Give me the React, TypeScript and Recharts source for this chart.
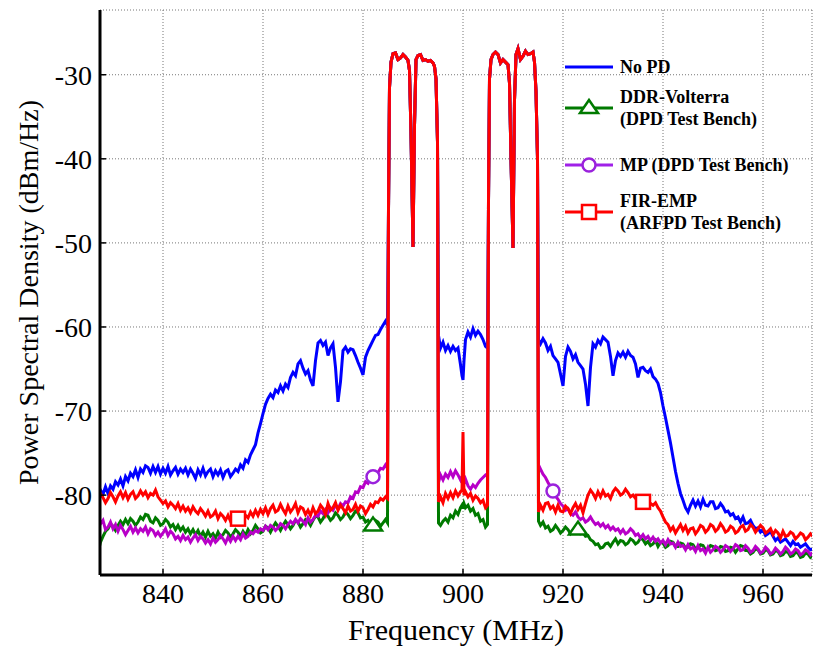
import React from "react";
import {
  LineChart,
  Line,
  XAxis,
  YAxis,
  CartesianGrid,
  Legend,
} from "recharts";

// frequency grid (MHz): 0.5 MHz steps, finer around the two carrier bands
const freqLeft = [
  827, 827.5, 828, 828.5, 829, 829.5, 830, 830.5, 831, 831.5, 832, 832.5, 833, 833.5, 834, 834.5,
  835, 835.5, 836, 836.5, 837, 837.5, 838, 838.5, 839, 839.5, 840, 840.5, 841, 841.5, 842, 842.5,
  843, 843.5, 844, 844.5, 845, 845.5, 846, 846.5, 847, 847.5, 848, 848.5, 849, 849.5, 850, 850.5,
  851, 851.5, 852, 852.5, 853, 853.5, 854, 854.5, 855, 855.5, 856, 856.5, 857, 857.5, 858, 858.5,
  859, 859.5, 860, 860.5, 861, 861.5, 862, 862.5, 863, 863.5, 864, 864.5, 865, 865.5, 866, 866.5,
  867, 867.5, 868, 868.5, 869, 869.5, 870, 870.5, 871, 871.5, 872, 872.5, 873, 873.5, 874, 874.5,
  875, 875.5, 876, 876.5, 877, 877.5, 878, 878.5, 879, 879.5, 880, 880.5, 881, 881.5, 882, 882.5,
  883, 883.5, 884, 884.5, 884.9,
];
const freqBand1 = [
  885.1, 885.3, 885.6, 886, 886.5, 887, 887.5, 888, 888.5, 889, 889.3, 889.6, 890, 890.3, 890.6, 891,
  891.5, 892, 892.5, 893, 893.5, 894, 894.3, 894.6, 894.9,
];
const freqMid = [
  895.1, 895.5, 896, 896.5, 897, 897.5, 898, 898.5, 899, 899.5, 899.8, 900, 900.2, 900.5, 901, 901.5,
  902, 902.5, 903, 903.5, 904, 904.5, 904.9,
];
const freqBand2 = [
  905.1, 905.3, 905.6, 906, 906.5, 907, 907.5, 908, 908.5, 909, 909.3, 909.6, 910, 910.3, 910.6, 911,
  911.5, 912, 912.5, 913, 913.5, 914, 914.3, 914.6, 914.9,
];
const freqRight = [
  915.1, 915.5, 916, 916.5, 917, 917.5, 918, 918.5, 919, 919.5, 920, 920.5, 921, 921.5, 922, 922.5,
  923, 923.5, 924, 924.5, 925, 925.5, 926, 926.5, 927, 927.5, 928, 928.5, 929, 929.5, 930, 930.5,
  931, 931.5, 932, 932.5, 933, 933.5, 934, 934.5, 935, 935.5, 936, 936.5, 937, 937.5, 938, 938.5,
  939, 939.5, 940, 940.5, 941, 941.5, 942, 942.5, 943, 943.5, 944, 944.5, 945, 945.5, 946, 946.5,
  947, 947.5, 948, 948.5, 949, 949.5, 950, 950.5, 951, 951.5, 952, 952.5, 953, 953.5, 954, 954.5,
  955, 955.5, 956, 956.5, 957, 957.5, 958, 958.5, 959, 959.5, 960, 960.5, 961, 961.5, 962, 962.5,
  963, 963.5, 964, 964.5, 965, 965.5, 966, 966.5, 967, 967.5, 968, 968.5, 969, 969.5, 970,
];

// in-band PSD, all four curves overlap here
const band1Psd = [
  -46, -31.5, -28.5, -27.5, -27.4, -28.2, -28.0, -27.6, -27.9, -28.3, -29.5, -37, -50.5, -36, -28.2, -27.7,
  -27.6, -28.3, -28.2, -28.4, -28.3, -28.6, -29, -30.5, -38,
];
const band2Psd = [
  -45, -30.5, -28.2, -27.6, -27.3, -27.6, -28.6, -28.2, -28.5, -28.8, -31, -40, -50.6, -33, -27.6, -26.9,
  -28.2, -27.8, -27.2, -27.6, -27.5, -27.3, -28.5, -32, -40,
];

// No PD
const noPdLeft = [
  -80.3, -79.4, -79.9, -79.0, -79.8, -78.9, -79.3, -78.4, -78.8, -78.1, -78.9, -77.8, -78.3, -77.4, -77.8, -77.0,
  -77.9, -76.9, -77.3, -76.5, -76.7, -77.4, -76.6, -77.3, -76.6, -77.5, -76.8, -77.4, -76.6, -77.6, -77.1, -76.7,
  -77.5, -76.9, -77.3, -76.8, -77.6, -76.9, -77.4, -78.0, -77.0, -77.6, -76.8, -77.7, -77.2, -76.9, -77.8, -77.1,
  -77.6, -77.0, -77.9, -77.2, -77.0, -77.8, -77.4, -76.9, -77.2, -76.4, -76.8, -75.8, -76.1, -75.2, -74.6, -74.0,
  -72.6, -71.5, -70.3, -69.2, -68.5, -68.0, -68.4, -67.5, -67.8, -67.0, -67.6, -66.8, -67.2, -66.0, -65.4, -65.8,
  -64.4, -64.0, -64.9, -65.6, -65.2, -66.3, -67.0, -64.0, -61.9, -61.6, -62.2, -61.8, -63.4, -62.5, -62.0, -64.8,
  -68.9, -66.5, -62.8, -62.4, -63.0, -62.6, -62.7, -63.4, -64.2, -64.9, -65.7, -63.6, -62.8, -62.2, -61.6, -61.0,
  -60.9, -60.3, -59.8, -59.3, -59.8,
];
const noPdMid = [
  -61, -62.5, -61.8, -62.8, -62.2, -62.9, -62.3, -62.8, -62.5, -64.5, -65.8, -66.3, -64, -61.5, -60.6, -61.2,
  -60.2, -61, -60.5, -60.9, -61.5, -62.3, -62.5,
];
const noPdRight = [
  -61.5, -62.0, -61.4, -61.9, -62.8, -62.3, -63.4, -63.8, -64.2, -65.6, -67.0, -63.5, -62.4, -62.9, -63.8, -63.3,
  -64.2, -64.6, -65.0, -66.8, -69.4, -64.8, -62.0, -62.4, -61.6, -62.0, -61.2, -61.5, -61.8, -63.5, -65.8, -64.0,
  -63.1, -63.5, -63.0, -63.6, -62.9, -63.4, -63.6, -64.4, -66.0, -64.9, -64.8, -65.2, -65.4, -65.0, -65.9, -66.2,
  -66.7, -67.8, -69.4, -70.8, -72.3, -73.8, -75.5, -77.2, -78.6, -79.8, -80.6, -81.5, -82.0, -81.2, -80.6, -81.3,
  -80.7, -81.4, -80.5, -81.2, -81.3, -80.8, -80.8, -81.6, -81.5, -81.0, -81.4, -82.0, -81.9, -82.4, -82.2, -82.8,
  -82.6, -83.2, -82.6, -83.4, -83.3, -83.0, -83.6, -84.0, -83.9, -84.4, -84.1, -84.8, -84.6, -84.3, -84.9, -85.4,
  -85.1, -85.6, -85.4, -85.2, -85.6, -86.0, -85.5, -85.9, -85.8, -86.2, -86.0, -85.8, -86.2, -86.5, -86.4,
];

// DDR-Volterra (DPD Test Bench)
const ddrLeft = [
  -86.8, -85.6, -84.9, -84.3, -84.0, -83.4, -83.7, -84.2, -83.6, -83.1, -83.5, -82.9, -83.4, -82.8, -83.1, -83.6,
  -83.2, -82.6, -82.9, -82.3, -82.4, -83.1, -83.3, -82.7, -83.0, -83.6, -83.4, -82.9, -83.2, -83.8, -83.5, -84.1,
  -83.6, -84.2, -83.8, -84.4, -84.0, -84.6, -84.1, -84.7, -84.2, -84.9, -84.4, -85.0, -84.3, -84.9, -84.6, -85.1,
  -84.4, -85.0, -84.7, -84.2, -84.5, -85.0, -84.6, -84.1, -84.4, -84.9, -84.3, -84.8, -84.1, -84.6, -84.2, -83.6,
  -84.0, -84.5, -84.3, -83.7, -83.9, -84.4, -83.8, -83.3, -83.7, -84.2, -83.6, -83.1, -83.5, -84.0, -83.6, -83.0,
  -83.2, -83.8, -83.4, -82.9, -83.1, -83.6, -83.0, -82.5, -82.6, -83.2, -82.8, -82.2, -82.5, -83.0, -82.7, -82.1,
  -82.4, -82.9, -82.6, -82.0, -82.3, -82.8, -82.4, -81.9, -82.1, -82.7, -82.6, -83.2, -83.0, -83.5, -83.6, -83.0,
  -83.2, -83.7, -83.3, -82.9, -83.3,
];
const ddrMid = [
  -83.3, -83.6, -83.1, -82.8, -83.2, -82.4, -82.7, -81.9, -82.3, -81.5, -81.2, -81.6, -81, -81.5, -81.2, -81.9,
  -81.6, -82.4, -82.2, -83.1, -82.9, -83.8, -83.5,
];
const ddrRight = [
  -83.1, -83.6, -83.2, -83.9, -83.7, -84.3, -84.1, -83.6, -84.0, -84.5, -84.2, -83.8, -84.1, -84.6, -84.3, -83.9,
  -84.1, -84.6, -84.5, -84.9, -84.8, -85.3, -85.5, -85.9, -85.8, -86.3, -86.2, -85.8, -85.7, -86.1, -85.6, -85.2,
  -85.8, -85.4, -85.5, -85.9, -85.7, -85.2, -85.4, -85.8, -85.6, -85.1, -85.3, -85.8, -85.5, -86.0, -85.8, -85.4,
  -86.1, -85.6, -85.7, -86.2, -86.0, -85.5, -85.6, -86.1, -86.1, -85.7, -85.8, -86.3, -86.2, -85.8, -85.9, -86.4,
  -86.3, -85.9, -86.0, -86.5, -86.4, -86.0, -86.1, -86.6, -86.5, -86.1, -86.2, -86.7, -86.6, -86.2, -86.3, -86.8,
  -86.4, -86.0, -86.1, -86.6, -86.6, -87.0, -86.8, -86.4, -86.5, -87.0, -86.9, -86.5, -86.6, -87.1, -87.0, -86.6,
  -86.7, -87.2, -87.1, -86.7, -86.8, -87.3, -87.2, -86.8, -86.9, -87.4, -87.3, -86.9, -87.0, -87.4, -87.2,
];

// MP (DPD Test Bench)
const mpLeft = [
  -82.2, -83.4, -83.0, -84.1, -83.8, -83.2, -84.0, -83.5, -84.3, -83.6, -84.1, -84.7, -84.2, -83.7, -84.4, -83.9,
  -84.5, -84.0, -84.3, -83.8, -84.6, -84.0, -84.2, -84.8, -84.4, -84.9, -84.5, -84.0, -84.8, -84.3, -84.6, -85.2,
  -84.9, -85.4, -84.8, -85.3, -85.0, -85.6, -85.1, -84.7, -85.4, -84.9, -85.2, -85.7, -85.3, -85.8, -85.1, -85.6,
  -85.3, -84.8, -85.2, -85.7, -85.0, -85.5, -84.9, -85.4, -84.9, -85.3, -84.6, -85.1, -84.9, -84.4, -84.6, -84.2,
  -84.4, -84.0, -84.2, -83.7, -84.1, -83.6, -83.8, -84.2, -83.9, -83.4, -83.6, -84.0, -83.5, -83.1, -83.4, -82.9,
  -83.3, -82.8, -83.1, -83.5, -82.7, -83.2, -82.9, -82.4, -82.5, -81.9, -82.2, -81.7, -82.1, -81.5, -81.8, -81.2,
  -81.6, -81.0, -81.3, -80.8, -80.9, -80.2, -80.4, -79.6, -79.7, -79.0, -79.1, -78.4, -78.6, -78.0, -77.8, -77.5,
  -77.3, -76.8, -76.9, -76.4, -76.8,
];
const mpMid = [
  -78.5, -77.6, -78.2, -77.5, -77.9, -77.2, -77.8, -77.1, -77.6, -78.2, -77.8, -78.4, -78.6, -78.1, -78.9, -79.3,
  -78.8, -79.1, -78.6, -78.2, -77.9, -77.6, -77.8,
];
const mpRight = [
  -76.4, -76.9, -77.5, -77.9, -78.5, -79.0, -79.5, -80.1, -80.5, -81.0, -81.3, -81.8, -81.6, -82.2, -82.4, -82.0,
  -82.6, -82.9, -82.7, -83.2, -83.0, -82.6, -83.1, -83.5, -83.3, -83.7, -83.4, -83.9, -83.6, -84.1, -83.8, -84.2,
  -84.0, -84.5, -84.1, -84.6, -84.4, -84.0, -84.3, -84.8, -84.6, -85.1, -84.7, -85.2, -84.9, -85.4, -85.0, -85.5,
  -85.2, -85.7, -85.4, -85.9, -85.3, -85.8, -85.7, -86.2, -85.6, -86.1, -86.0, -86.5, -85.9, -86.4, -86.2, -86.7,
  -86.0, -86.6, -86.4, -86.9, -86.2, -86.8, -86.5, -86.1, -86.3, -86.8, -86.5, -86.0, -86.2, -86.7, -86.4, -85.9,
  -86.1, -86.6, -86.5, -86.0, -86.3, -86.8, -86.6, -86.1, -86.4, -86.9, -86.7, -86.2, -86.5, -87.0, -86.8, -86.3,
  -86.6, -87.0, -86.7, -86.2, -86.5, -87.0, -86.8, -86.4, -86.6, -87.1, -86.9, -86.5, -86.7, -87.1, -86.8,
];

// FIR-EMP (ARFPD Test Bench)
const firLeft = [
  -80.5, -79.8, -80.3, -80.9, -80.4, -79.7, -80.2, -80.8, -80.1, -79.6, -80.3, -79.7, -80.5, -79.9, -79.6, -80.4,
  -80.1, -79.5, -80.0, -79.6, -80.3, -79.8, -80.0, -79.4, -80.2, -80.6, -81.0, -80.7, -81.4, -80.9, -81.2, -81.6,
  -81.0, -81.8, -81.3, -81.9, -81.5, -82.1, -81.4, -81.9, -82.2, -81.6, -82.0, -82.5, -81.9, -82.6, -82.4, -81.9,
  -82.8, -82.2, -82.5, -83.0, -82.4, -83.1, -82.8, -82.5, -82.8, -82.3, -83.0, -82.4, -82.7, -82.0, -82.5, -81.8,
  -82.4, -81.7, -82.2, -81.5, -82.3, -81.6, -81.2, -82.0, -81.8, -81.1, -81.7, -82.2, -81.3, -82.0, -81.6, -81.0,
  -82.1, -81.4, -81.6, -82.3, -81.8, -82.4, -81.5, -82.2, -81.9, -81.2, -81.6, -82.3, -81.0, -81.8, -81.5, -80.9,
  -81.8, -81.2, -81.6, -82.1, -81.3, -81.9, -81.7, -81.1, -81.9, -81.3, -81.5, -82.2, -81.7, -81.1, -81.4, -80.8,
  -80.9, -80.4, -80.6, -80.2, -80.4,
];
const firMid = [
  -80.8, -80.2, -80.9, -79.8, -80.4, -79.7, -80.3, -79.5, -80.1, -79.6, -79.4, -72.5, -80, -79.6, -80.2, -79.8,
  -80.6, -80.1, -80.4, -80.9, -80.6, -81.5, -81.2,
];
const firRight = [
  -82.0, -81.2, -81.8, -81.0, -80.9, -81.6, -81.3, -82.0, -81.2, -81.9, -82.0, -81.3, -81.6, -82.2, -81.5, -81.0,
  -81.7, -81.2, -82.1, -81.0, -80.0, -79.4, -79.8, -80.4, -79.6, -80.2, -79.5, -80.1, -79.9, -80.4, -79.6, -79.2,
  -79.5, -80.0, -79.8, -79.3, -79.7, -80.2, -80.0, -80.4, -80.6, -80.2, -80.8, -80.5, -80.7, -81.0, -81.2, -80.9,
  -81.5, -81.9, -82.6, -83.2, -83.5, -84.2, -83.8, -84.5, -84.0, -83.5, -84.2, -83.7, -84.5, -84.0, -83.9, -84.6,
  -84.2, -83.6, -83.8, -84.4, -84.1, -83.5, -83.7, -84.3, -84.0, -83.4, -83.8, -84.4, -84.2, -83.7, -83.9, -84.5,
  -84.3, -83.8, -83.6, -84.3, -84.1, -83.5, -83.8, -84.4, -84.0, -83.6, -83.9, -84.5, -84.3, -84.0, -84.7, -84.2,
  -84.5, -85.1, -84.3, -84.9, -84.8, -84.4, -84.6, -85.2, -84.9, -84.5, -84.7, -85.3, -85.0, -84.6, -84.9,
];

// frequencies where MATLAB-style markers sit
const ddrMarks = [882, 923];
const mpMarks = [882, 918];
const firMarks = [855, 936];

const xTicks = [840, 860, 880, 900, 920, 940, 960];
const yTicks = [-80, -70, -60, -50, -40, -30];

const freq = [...freqLeft, ...freqBand1, ...freqMid, ...freqBand2, ...freqRight];
const noPd = [...noPdLeft, ...band1Psd, ...noPdMid, ...band2Psd, ...noPdRight];
const ddr = [...ddrLeft, ...band1Psd, ...ddrMid, ...band2Psd, ...ddrRight];
const mp = [...mpLeft, ...band1Psd, ...mpMid, ...band2Psd, ...mpRight];
const fir = [...firLeft, ...band1Psd, ...firMid, ...band2Psd, ...firRight];

const data = freq.map((f, i) => ({ f, noPd: noPd[i], ddr: ddr[i], mp: mp[i], fir: fir[i] }));

const FONT = "Liberation Serif, Times New Roman, serif";
const BLUE = "#0000ff";
const GREEN = "#007a00";
const PURPLE = "#b800c8";
const PURPLE_MARK = "#9a22dc";
const RED = "#ff0000";
const X_DOMAIN = [827.4, 969.8];
const Y_DOMAIN = [-89.5, -22.3];

const Marker = ({ kind, x, y, color }: { kind: string; x: number; y: number; color: string }) => {
  if (kind === "triangle")
    return (
      <polygon
        points={`${x},${y - 8} ${x - 9},${y + 5} ${x + 9},${y + 5}`}
        fill="#fff"
        stroke={color}
        strokeWidth={2.5}
      />
    );
  if (kind === "circle") return <circle cx={x} cy={y} r={6.5} fill="#fff" stroke={color} strokeWidth={2.5} />;
  return <rect x={x - 7} y={y - 7} width={14} height={14} fill="#fff" stroke={color} strokeWidth={2.5} />;
};

const markDot = (marks: number[], kind: string, color: string) => (props: any) => {
  const { cx, cy, payload, index } = props;
  if (!marks.includes(payload.f) || cx == null || cy == null) return <g key={`d${index}`} />;
  return (
    <g key={`d${index}`}>
      <Marker kind={kind} x={cx} y={cy} color={color} />
    </g>
  );
};

const legendRows = [
  { lines: ["No PD"], color: BLUE, mark: "", markColor: BLUE, y: 17 },
  { lines: ["DDR-Volterra", "(DPD Test Bench)"], color: GREEN, mark: "triangle", markColor: GREEN, y: 58 },
  { lines: ["MP (DPD Test Bench)"], color: "#a020e8", mark: "circle", markColor: PURPLE_MARK, y: 115 },
  { lines: ["FIR-EMP", "(ARFPD Test Bench)"], color: RED, mark: "square", markColor: RED, y: 162 },
];

const PsdLegend = () => (
  <svg width={250} height={200} style={{ overflow: "visible" }}>
    {legendRows.map((r) => {
      const top = r.lines.length > 1 ? r.y - 5 : r.y + 6;
      return (
        <g key={r.lines[0]}>
          <line x1={5} x2={53} y1={r.y} y2={r.y} stroke={r.color} strokeWidth={3} />
          {r.mark && <Marker kind={r.mark} x={29} y={r.y} color={r.markColor} />}
          <text x={60} y={top} fontFamily={FONT} fontWeight="bold" fontSize={18} fill="#000">
            {r.lines.map((t, i) => (
              <tspan key={t} x={60} dy={i === 0 ? 0 : 22}>
                {t}
              </tspan>
            ))}
          </text>
        </g>
      );
    })}
  </svg>
);

const axisLine = { stroke: "#000", strokeWidth: 3 };
const tickLine = { stroke: "#000", strokeWidth: 1.5 };

export default function App() {
  return (
    <div style={{ position: "absolute", left: 0, top: 0, width: 814, height: 647, background: "#fff" }}>
      <LineChart width={814} height={647} data={data} margin={{ top: 10, right: 2, left: 0, bottom: 0 }}>
        <CartesianGrid stroke="#777" strokeDasharray="1 2" />
        <XAxis
          dataKey="f"
          type="number"
          domain={X_DOMAIN}
          ticks={xTicks}
          allowDataOverflow
          height={72}
          tickSize={-6}
          tickMargin={14}
          tickLine={tickLine}
          axisLine={axisLine}
          tick={{ fill: "#000", fontSize: 28, fontFamily: FONT }}
          label={{ value: "Frequency (MHz)", position: "center", dy: 18, fill: "#000", fontSize: 30, fontFamily: FONT }}
        />
        <XAxis
          xAxisId="top"
          orientation="top"
          dataKey="f"
          type="number"
          domain={X_DOMAIN}
          ticks={xTicks}
          allowDataOverflow
          height={0}
          tickSize={-6}
          tick={false}
          tickLine={tickLine}
          axisLine={axisLine}
        />
        <YAxis
          type="number"
          domain={Y_DOMAIN}
          ticks={yTicks}
          allowDataOverflow
          width={100}
          tickSize={-6}
          tickMargin={14}
          tickLine={tickLine}
          axisLine={axisLine}
          tick={{ fill: "#000", fontSize: 28, fontFamily: FONT }}
          label={{
            value: "Power Spectral Density (dBm/Hz)",
            angle: -90,
            position: "center",
            dx: -22,
            fill: "#000",
            fontSize: 28,
            fontFamily: FONT,
          }}
        />
        <YAxis
          yAxisId="right"
          orientation="right"
          type="number"
          domain={Y_DOMAIN}
          ticks={yTicks}
          allowDataOverflow
          width={0}
          tickSize={-6}
          tick={false}
          tickLine={tickLine}
          axisLine={{ stroke: "#000", strokeWidth: 2 }}
        />
        <Legend
          layout="vertical"
          verticalAlign="middle"
          align="center"
          content={() => <PsdLegend />}
          wrapperStyle={{ position: "absolute", left: 560, top: 50, width: 250, height: 200 }}
        />
        <Line dataKey="noPd" name="No PD" stroke={BLUE} strokeWidth={3} dot={false} activeDot={false} isAnimationActive={false} />
        <Line
          dataKey="ddr"
          name="DDR-Volterra (DPD Test Bench)"
          stroke={GREEN}
          strokeWidth={3}
          dot={markDot(ddrMarks, "triangle", GREEN)}
          activeDot={false}
          isAnimationActive={false}
        />
        <Line
          dataKey="mp"
          name="MP (DPD Test Bench)"
          stroke={PURPLE}
          strokeWidth={3}
          dot={markDot(mpMarks, "circle", PURPLE_MARK)}
          activeDot={false}
          isAnimationActive={false}
        />
        <Line
          dataKey="fir"
          name="FIR-EMP (ARFPD Test Bench)"
          stroke={RED}
          strokeWidth={3}
          dot={markDot(firMarks, "square", RED)}
          activeDot={false}
          isAnimationActive={false}
        />
      </LineChart>
    </div>
  );
}
